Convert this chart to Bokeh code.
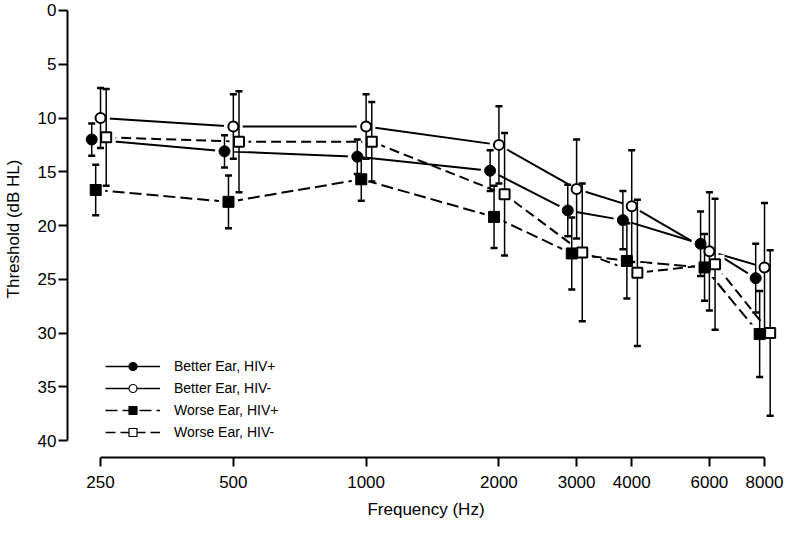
from bokeh.plotting import figure
from bokeh.models import (Range1d, FixedTicker, NumeralTickFormatter, Legend,
                          LegendItem, ColumnDataSource)
from bokeh.embed import file_html
from bokeh.resources import INLINE

# ---- data ----
freqs = [250, 500, 1000, 2000, 3000, 4000, 6000, 8000]
y_ticks = [0, 5, 10, 15, 20, 25, 30, 35, 40]

better_hivpos_mean = [12.0, 13.1, 13.6, 14.9, 18.6, 19.5, 21.7, 24.9]
better_hivpos_err = [1.5, 1.5, 1.6, 1.9, 2.4, 2.7, 3.0, 3.2]

better_hivneg_mean = [10.0, 10.8, 10.8, 12.5, 16.6, 18.2, 22.4, 23.9]
better_hivneg_err = [2.8, 3.0, 3.0, 3.6, 4.6, 5.2, 5.5, 6.0]

worse_hivpos_mean = [16.7, 17.8, 15.7, 19.2, 22.6, 23.3, 23.9, 30.1]
worse_hivpos_err = [2.35, 2.45, 2.0, 2.9, 3.35, 3.5, 3.1, 4.0]

worse_hivneg_mean = [11.8, 12.2, 12.2, 17.1, 22.5, 24.4, 23.6, 30.0]
worse_hivneg_err = [4.5, 4.7, 3.7, 5.7, 6.4, 6.8, 6.1, 7.7]

series_names = ["Better Ear, HIV+", "Better Ear, HIV-", "Worse Ear, HIV+", "Worse Ear, HIV-"]

# ---- styling ----
FONT = "Liberation Sans"
styles = [
    dict(mean=better_hivpos_mean, err=better_hivpos_err, marker="circle", filled=True, dash="solid", dodge=0.955),
    dict(mean=better_hivneg_mean, err=better_hivneg_err, marker="circle", filled=False, dash="solid", dodge=1.0),
    dict(mean=worse_hivpos_mean, err=worse_hivpos_err, marker="square", filled=True, dash="12 5", dodge=0.975),
    dict(mean=worse_hivneg_mean, err=worse_hivneg_err, marker="square", filled=False, dash="10 5", dodge=1.03),
]

p = figure(width=784, height=522, x_axis_type="log",
           x_range=Range1d(210.4, 8880), y_range=Range1d(41.58, -0.93),
           output_backend="svg", toolbar_location=None,
           min_border_left=67, min_border_right=0, min_border_top=0, min_border_bottom=65)
p.outline_line_color = None
p.xgrid.grid_line_color = None
p.ygrid.grid_line_color = None
p.background_fill_color = "white"
p.border_fill_color = "white"

sources = []
for s in styles:
    xs = [f * s["dodge"] for f in freqs]
    lo = [m - e for m, e in zip(s["mean"], s["err"])]
    hi = [m + e for m, e in zip(s["mean"], s["err"])]
    sources.append(ColumnDataSource(dict(x=xs, y=s["mean"], lo=lo, hi=hi)))

# connecting lines
for s, src in zip(styles, sources):
    p.line("x", "y", source=src, line_color="black", line_width=2, line_dash=s["dash"])

# white halos so lines stop short of the markers
for s, src in zip(styles, sources):
    p.scatter("x", "y", source=src, marker=s["marker"], size=19,
              fill_color="white", line_color=None)

# error bars
for s, src in zip(styles, sources):
    p.segment(x0="x", y0="lo", x1="x", y1="hi", source=src, line_color="black", line_width=1.5)
    p.scatter("x", "hi", source=src, marker="dash", size=7, line_color="black", line_width=2.5)
    p.scatter("x", "lo", source=src, marker="dash", size=7, line_color="black", line_width=2.5)

# markers
for s, src in zip(styles, sources):
    if s["filled"]:
        p.scatter("x", "y", source=src, marker=s["marker"], size=11,
                  fill_color="black", line_color="black", line_width=1)
    else:
        p.scatter("x", "y", source=src, marker=s["marker"], size=10,
                  fill_color="white", line_color="black", line_width=2)

# legend: renderers holding one NaN point carry the legend glyph styles
items = []
for name, s in zip(series_names, styles):
    dummy = ColumnDataSource(dict(x=[float("nan")], y=[float("nan")]))
    lr = p.line("x", "y", source=dummy, line_color="black", line_width=1.5, line_dash=s["dash"])
    mr = p.scatter("x", "y", source=dummy, marker=s["marker"], size=7,
                   fill_color="black" if s["filled"] else "white",
                   line_color="black", line_width=1.2)
    items.append(LegendItem(label=name, renderers=[lr, mr]))

legend = Legend(items=items, location=(38, 15), orientation="vertical",
                padding=0, margin=0, spacing=2, glyph_width=55, glyph_height=20,
                label_height=20, label_standoff=14,
                label_text_font=FONT, label_text_font_size="14px", label_text_color="black",
                border_line_color=None, background_fill_alpha=0)
p.add_layout(legend)

# axes
p.xaxis.ticker = FixedTicker(ticks=freqs, minor_ticks=[])
p.xaxis.formatter = NumeralTickFormatter(format="0")
p.xaxis.bounds = (freqs[0], freqs[-1])
p.yaxis.ticker = FixedTicker(ticks=y_ticks, minor_ticks=[])
p.yaxis.bounds = (y_ticks[0], y_ticks[-1])

p.xaxis.axis_label = "Frequency (Hz)"
p.yaxis.axis_label = "Threshold (dB HL)"
for ax in (p.xaxis, p.yaxis):
    ax.axis_line_width = 2
    ax.axis_line_color = "black"
    ax.major_tick_line_width = 2
    ax.major_tick_line_color = "black"
    ax.major_tick_in = 0
    ax.major_tick_out = 9
    ax.minor_tick_in = 0
    ax.minor_tick_out = 0
    ax.major_label_text_font = FONT
    ax.major_label_text_font_size = "17px"
    ax.major_label_text_color = "black"
    ax.axis_label_text_font = FONT
    ax.axis_label_text_font_size = "17px"
    ax.axis_label_text_font_style = "normal"
    ax.axis_label_text_color = "black"
p.xaxis.major_label_standoff = 9
p.xaxis.axis_label_standoff = 9
p.yaxis.major_label_standoff = 2
p.yaxis.axis_label_standoff = 12

open("out.html", "w").write(file_html(p, INLINE))
